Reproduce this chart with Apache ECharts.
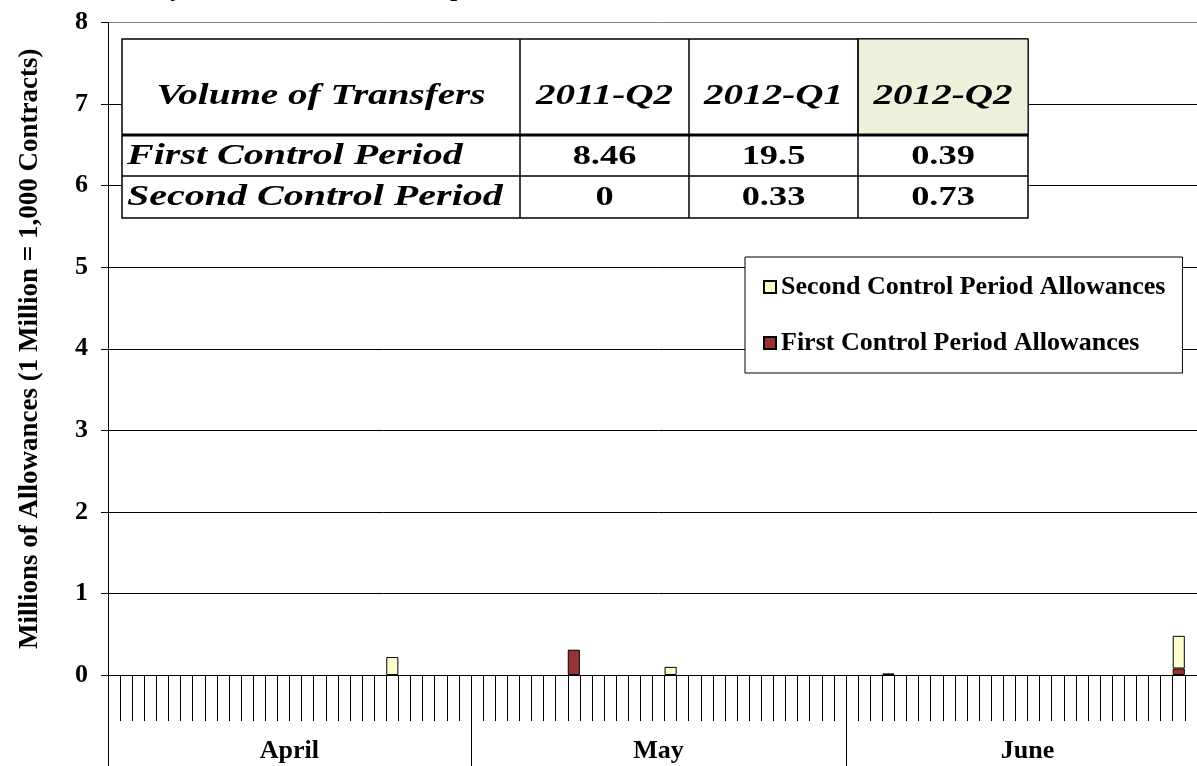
<!DOCTYPE html>
<html>
<head>
<meta charset="utf-8">
<title>Allowance Transfers by Day</title>
<script src="https://cdn.jsdelivr.net/npm/echarts@6/dist/echarts.min.js"></script>
<style>
  html, body { margin: 0; padding: 0; background: #fff; overflow: hidden; }
  #chart { width: 1209px; height: 766px; }
</style>
</head>
<body>
<div id="chart"></div>
<script>
// months shown on the lower axis and how many days each has
const months = ['April', 'May', 'June'];
const monthDays = [30, 31, 30];
const monthNumbers = [4, 5, 6];

// daily transfers, millions of allowances
const firstPeriodDays = ['5/9', '6/28'];
const firstPeriodValues = [0.31, 0.08];
const secondPeriodDays = ['4/24', '5/17', '6/4', '6/28'];
const secondPeriodValues = [0.22, 0.10, 0.02, 0.40];

// y axis
const yTicks = [0, 1, 2, 3, 4, 5, 6, 7, 8];

// summary table
const tableHeader = ['Volume of Transfers', '2011-Q2', '2012-Q1', '2012-Q2'];
const tableRowNames = ['First Control Period', 'Second Control Period'];
const firstPeriodTotals = ['8.46', '19.5', '0.39'];
const secondPeriodTotals = ['0', '0.33', '0.73'];

const SERIF = '"Liberation Serif", "Times New Roman", serif';

// day categories
const days = [];
months.forEach((m, i) => {
    for (let d = 1; d <= monthDays[i]; d++) days.push(monthNumbers[i] + '/' + d);
});

function toSeries(labels, values) {
    const out = days.map(() => null);
    labels.forEach((l, i) => { out[days.indexOf(l)] = values[i]; });
    return out;
}

// month boundaries and label slots (label centred on the month span)
const monthStarts = [];
let acc = 0;
monthDays.forEach(n => { monthStarts.push(acc); acc += n; });
const monthLabelSlot = {};
months.forEach((m, i) => {
    const center = monthStarts[i] + monthDays[i] / 2;
    const slot = Math.ceil(center) - 1;
    monthLabelSlot[slot] = { name: m, shifted: center - (slot + 0.5) > 0.25 };
});

const chart = echarts.init(document.getElementById('chart'));

// the plot runs a little past the right edge of the window
const gridLeft = 108, gridTop = 22.5, gridRight = 0, gridBottom = 91;
const slotW = (1209 - gridLeft - gridRight) / days.length;

// table graphic
const colX = [122, 520, 689, 858, 1028];
const rowY = [39, 135, 176, 218];
const table = [];
table.push({ type: 'rect', shape: { x: colX[0], y: rowY[0], width: colX[4] - colX[0], height: rowY[3] - rowY[0] },
    style: { fill: '#fff', stroke: '#000', lineWidth: 1.5 } });
table.push({ type: 'rect', shape: { x: colX[3], y: rowY[0], width: colX[4] - colX[3], height: rowY[1] - rowY[0] },
    style: { fill: '#EEF0DC', stroke: '#000', lineWidth: 1 } });
[1, 2, 3].forEach(i => {
    table.push({ type: 'line', shape: { x1: colX[i], y1: rowY[0], x2: colX[i], y2: rowY[3] }, style: { stroke: '#000', lineWidth: 1.5 } });
});
table.push({ type: 'line', shape: { x1: colX[0], y1: rowY[1], x2: colX[4], y2: rowY[1] }, style: { stroke: '#000', lineWidth: 3 } });
table.push({ type: 'line', shape: { x1: colX[0], y1: rowY[2], x2: colX[4], y2: rowY[2] }, style: { stroke: '#000', lineWidth: 1.5 } });

tableHeader.forEach((t, i) => {
    table.push({ type: 'text', x: (colX[i] + colX[i + 1]) / 2, y: 97, scaleX: 1.35,
        style: { text: t, align: 'center', verticalAlign: 'middle', fill: '#000',
            font: 'italic bold 29px ' + SERIF } });
});
[firstPeriodTotals, secondPeriodTotals].forEach((vals, r) => {
    const cy = (rowY[r + 1] + rowY[r + 2]) / 2 + 1;
    table.push({ type: 'text', x: 127, y: cy, scaleX: 1.38,
        style: { text: tableRowNames[r], align: 'left', verticalAlign: 'middle', fill: '#000',
            font: 'italic bold 29px ' + SERIF } });
    vals.forEach((v, i) => {
        table.push({ type: 'text', x: (colX[i + 1] + colX[i + 2]) / 2, y: cy, scaleX: 1.3,
            style: { text: v, align: 'center', verticalAlign: 'middle', fill: '#000',
                font: 'bold 28px ' + SERIF } });
    });
});

const monthFont = { fontFamily: SERIF, fontWeight: 'bold', fontSize: 26, color: '#000' };

const option = {
    backgroundColor: '#fff',
    animation: false,
    title: {
        text: 'Daily Allowance Transfers, April 1, 2012 to June 30, 2012',
        left: 119,
        top: -29,
        textStyle: { fontFamily: SERIF, fontWeight: 'bold', fontSize: 26, color: '#000' }
    },
    legend: {
        orient: 'vertical',
        left: 745,
        top: 257,
        data: ['Second Control Period Allowances', 'First Control Period Allowances'],
        icon: 'rect',
        itemWidth: 12,
        itemHeight: 12,
        itemGap: 30,
        padding: [17, 17, 17, 18],
        backgroundColor: '#fff',
        borderColor: '#000',
        borderWidth: 1,
        textStyle: { fontFamily: SERIF, fontWeight: 'bold', fontSize: 26, color: '#000' },
        z: 10
    },
    grid: { left: gridLeft, top: gridTop, right: gridRight, bottom: gridBottom, containLabel: false },
    xAxis: [{
        type: 'category',
        data: days,
        boundaryGap: true,
        axisLine: { show: true, lineStyle: { color: '#000', width: 1 } },
        axisTick: { show: true, interval: 0, length: 46, lineStyle: { color: '#000', width: 1 } },
        axisLabel: { show: false },
        splitLine: { show: false }
    }, {
        type: 'category',
        data: days,
        position: 'bottom',
        offset: 46,
        boundaryGap: true,
        axisLine: { show: false },
        axisTick: {
            show: true,
            interval: (idx) => monthStarts.includes(idx),
            length: 45,
            lineStyle: { color: '#000', width: 1 }
        },
        axisLabel: {
            show: true,
            interval: (idx) => monthLabelSlot[idx] !== undefined,
            margin: 17,
            formatter: (value, idx) => {
                const m = monthLabelSlot[idx];
                if (!m) return '';
                return (m.shifted ? '{h|' : '{m|') + m.name + '}';
            },
            rich: {
                m: Object.assign({}, monthFont),
                h: Object.assign({ padding: [0, 0, 0, Math.round(slotW)] }, monthFont)
            }
        },
        splitLine: { show: false }
    }],
    yAxis: {
        type: 'value',
        min: yTicks[0],
        max: yTicks[yTicks.length - 1],
        interval: 1,
        name: 'Millions of Allowances (1 Million = 1,000 Contracts)',
        nameLocation: 'middle',
        nameGap: 64,
        nameTextStyle: { fontFamily: SERIF, fontWeight: 'bold', fontSize: 27, color: '#000' },
        axisLine: { show: true, lineStyle: { color: '#000', width: 1 } },
        axisTick: { show: true, length: 7, lineStyle: { color: '#000' } },
        axisLabel: { color: '#000', fontFamily: SERIF, fontWeight: 'bold', fontSize: 26, margin: 20 },
        splitLine: { show: true, lineStyle: { color: ['#000', '#000', '#000', '#000', '#000', '#000', '#000', '#000', '#808080'], width: 1 } }
    },
    series: [{
        name: 'First Control Period Allowances',
        type: 'bar',
        stack: 'total',
        barCategoryGap: '0%',
        itemStyle: { color: '#993333', borderColor: '#000', borderWidth: 1 },
        data: toSeries(firstPeriodDays, firstPeriodValues)
    }, {
        name: 'Second Control Period Allowances',
        type: 'bar',
        stack: 'total',
        barCategoryGap: '0%',
        itemStyle: { color: '#FFFFCC', borderColor: '#000', borderWidth: 1 },
        data: toSeries(secondPeriodDays, secondPeriodValues)
    }],
    graphic: table.map(e => Object.assign({ z: 20, silent: true }, e))
};

chart.setOption(option);

window.addEventListener('resize', () => {
    chart && chart.resize();
});
</script>
</body>
</html>
